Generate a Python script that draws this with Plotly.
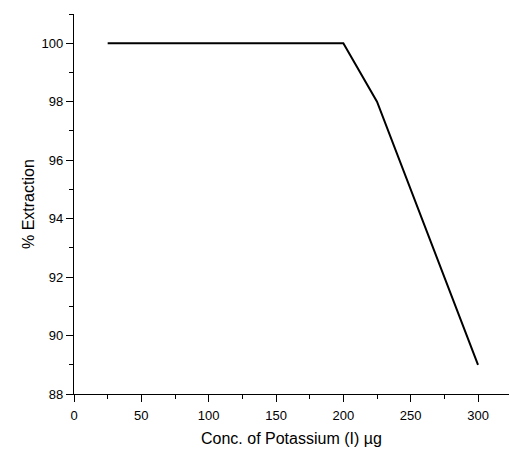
import plotly.graph_objects as go

conc = [25, 50, 100, 150, 200, 225, 300]
extraction = [100, 100, 100, 100, 100, 98, 89]
x_ticks = [0, 50, 100, 150, 200, 250, 300]
y_ticks = [88, 90, 92, 94, 96, 98, 100]

fig = go.Figure()
fig.add_trace(go.Scatter(x=conc, y=extraction, mode="lines",
                         line=dict(color="black", width=2), showlegend=False))

font = dict(family="Liberation Sans, Arial, sans-serif", color="black")
fig.update_layout(
    width=509, height=449,
    margin=dict(l=74, r=0, t=14, b=55),
    paper_bgcolor="white", plot_bgcolor="white",
    font=dict(size=13, **font),
    xaxis=dict(range=[0, 323], tickvals=x_ticks, showgrid=False, zeroline=False,
               showline=True, linecolor="black", linewidth=1.3, automargin=False,
               ticks="outside", ticklen=7, tickwidth=1.3, tickcolor="black",
               ticklabelstandoff=2,
               minor=dict(tickvals=[25, 75, 125, 175, 225, 275], ticks="outside",
                          ticklen=4, tickwidth=1.3, tickcolor="black"),
               tickfont=dict(size=13)),
    yaxis=dict(range=[88, 101], tickvals=y_ticks, showgrid=False, zeroline=False,
               showline=True, linecolor="black", linewidth=1.3, automargin=False,
               ticks="outside", ticklen=7, tickwidth=1.3, tickcolor="black",
               minor=dict(tickvals=[89, 91, 93, 95, 97, 99, 101], ticks="outside",
                          ticklen=4, tickwidth=1.3, tickcolor="black"),
               tickfont=dict(size=13)),
    annotations=[
        dict(text="Conc. of Potassium (I) µg", xref="paper", yref="paper",
             x=0.5, y=0, xanchor="center", yanchor="middle", yshift=-44,
             showarrow=False, font=dict(size=16)),
        dict(text="% Extraction", xref="paper", yref="paper", textangle=-90,
             x=0, y=0.5, xanchor="center", yanchor="middle", xshift=-46,
             showarrow=False, font=dict(size=16)),
    ],
)
fig.write_html("out.html", config={"displayModeBar": False},
               post_script="document.body.style.margin='0px';document.body.style.overflow='hidden';")
